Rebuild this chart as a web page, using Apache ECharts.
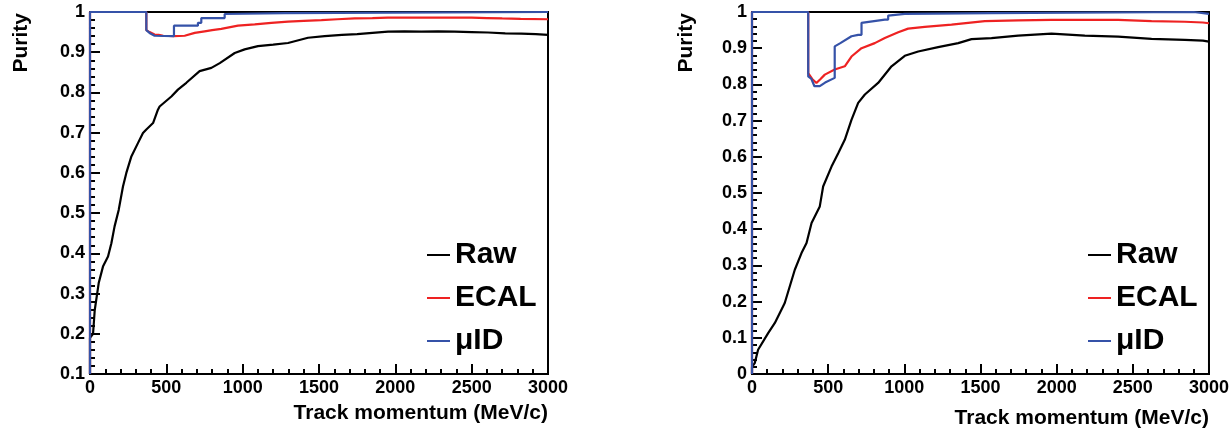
<!DOCTYPE html>
<html>
<head>
<meta charset="utf-8">
<script src="https://cdn.jsdelivr.net/npm/echarts@6/dist/echarts.min.js"></script>
<style>
html,body{margin:0;padding:0;background:#fff;}
#chart{width:1232px;height:434px;}
</style>
</head>
<body>
<div id="chart"></div>
<script>
// ---- Data ----
const seriesNames = ['Raw', 'ECAL', 'μID'];
const xTitle = 'Track momentum (MeV/c)';
const yTitle = 'Purity';

// Left panel
const leftRawP = [0,0,20,31,57,85,118,140,161,188,216,238,271,314,347,369,413,445,456,533,576,631,718,795,850,948,1013,1100,1200,1297,1428,1537,1650,1750,1850,1952,2060,2170,2280,2389,2500,2607,2720,2825,2920,3000];
const leftRawV = [0.1,0.19,0.20,0.259,0.326,0.367,0.392,0.425,0.467,0.508,0.566,0.600,0.641,0.674,0.699,0.708,0.724,0.757,0.765,0.790,0.807,0.824,0.853,0.861,0.873,0.898,0.907,0.915,0.919,0.923,0.936,0.940,0.943,0.945,0.948,0.951,0.952,0.951,0.952,0.951,0.950,0.949,0.947,0.946,0.945,0.943];

const leftEcalP = [0,0,369,369,390,423,450,480,550,620,686,751,800,860,969,1079,1188,1297,1400,1516,1620,1734,1850,1950,2100,2300,2500,2600,2700,2820,3000];
const leftEcalV = [0.1,1,1,0.955,0.950,0.944,0.943,0.941,0.940,0.941,0.948,0.952,0.955,0.958,0.966,0.969,0.973,0.976,0.978,0.980,0.982,0.984,0.985,0.986,0.986,0.986,0.986,0.985,0.984,0.983,0.982];

const leftMuP = [0,0,369,369,390,423,550,550,707,707,729,729,882,882,1275,1275,3000];
const leftMuV = [0.1,1,1,0.955,0.948,0.941,0.940,0.966,0.966,0.973,0.973,0.985,0.985,0.995,0.997,1,1];

// Right panel
const rightRawP = [0,0,18,40,106,150,215,281,325,358,391,445,467,522,566,609,653,697,741,828,916,1003,1091,1222,1354,1441,1572,1747,1966,2185,2404,2623,2841,2960,3000];
const rightRawV = [0,0.02,0.03,0.067,0.113,0.141,0.196,0.288,0.334,0.362,0.417,0.463,0.518,0.573,0.610,0.647,0.702,0.749,0.772,0.804,0.850,0.879,0.891,0.903,0.914,0.925,0.928,0.935,0.940,0.935,0.932,0.926,0.923,0.921,0.918];

const rightEcalP = [0,0,369,369,395,423,450,478,543,609,653,719,806,872,960,1025,1134,1310,1528,1747,1966,2185,2404,2623,2841,2960,3000];
const rightEcalV = [0,1,1,0.831,0.815,0.804,0.815,0.827,0.841,0.850,0.877,0.900,0.914,0.928,0.944,0.954,0.959,0.965,0.975,0.977,0.978,0.978,0.978,0.975,0.973,0.971,0.969];

const rightMuP = [0,0,369,369,390,410,445,480,543,543,580,653,697,719,719,872,894,894,1003,1572,1572,2900,2900,3000];
const rightMuV = [0,1,1,0.822,0.815,0.795,0.795,0.805,0.818,0.905,0.914,0.933,0.937,0.937,0.970,0.979,0.979,0.990,0.995,0.997,1,1,0.995,0.995];

const colors = ['#000000', '#ee2222', '#3552a8'];

// ---- Chart ----
function pairs(p, v) { return p.map((x, i) => [x, v[i]]); }

const FONT = '"Liberation Sans", Arial, Helvetica, sans-serif';
const tickLabel = { color: '#000', fontSize: 18, fontWeight: 'bold', fontFamily: FONT };

function xAx(gi) {
  return {
    type: 'value', gridIndex: gi, min: 0, max: 3000, interval: 500,
    axisLine: { show: true, onZero: false, lineStyle: { color: '#000', width: 2 } },
    axisTick: { show: true, inside: true, length: 10, lineStyle: { color: '#000', width: 2 } },
    minorTick: { show: true, splitNumber: 5, length: 5, lineStyle: { color: '#000', width: 2 } },
    splitLine: { show: false },
    axisLabel: Object.assign({ margin: 5, formatter: v => String(v) }, tickLabel)
  };
}
function yAx(gi, min) {
  return {
    type: 'value', gridIndex: gi, min: min, max: 1, interval: 0.1,
    axisLine: { show: true, onZero: false, lineStyle: { color: '#000', width: 2 } },
    axisTick: { show: true, inside: true, length: 10, lineStyle: { color: '#000', width: 2 } },
    minorTick: { show: true, splitNumber: 5, length: 5, lineStyle: { color: '#000', width: 2 } },
    splitLine: { show: false },
    axisLabel: Object.assign({ margin: 5, formatter: v => String(Math.round(v * 10) / 10) }, tickLabel)
  };
}
function line(name, gi, p, v, color) {
  return {
    type: 'line', name: name, xAxisIndex: gi, yAxisIndex: gi,
    data: pairs(p, v), showSymbol: false, symbol: 'none', clip: false,
    lineStyle: { color: color, width: 2.2 }, itemStyle: { color: color },
    emphasis: { disabled: true }, animation: false
  };
}
function legend(left) {
  return {
    data: seriesNames, orient: 'vertical', left: left, top: 235,
    icon: 'rect', itemWidth: 23, itemHeight: 2, itemGap: 13,
    selectedMode: false,
    textStyle: { color: '#000', fontSize: 30, fontWeight: 'bold', fontFamily: FONT, lineHeight: 30 }
  };
}
function title(x, y, text, rot, align) {
  return {
    type: 'text', x: x, y: y, rotation: rot,
    style: { text: text, fill: '#000', font: 'bold 21px ' + FONT, align: align, verticalAlign: 'middle' }
  };
}

const chart = echarts.init(document.getElementById('chart'), null, { renderer: 'canvas' });
chart.setOption({
  animation: false,
  backgroundColor: '#fff',
  grid: [
    { left: 90, top: 12, width: 458, height: 362, show: true, borderColor: '#000', borderWidth: 2, backgroundColor: 'transparent' },
    { left: 752, top: 12, width: 457, height: 362, show: true, borderColor: '#000', borderWidth: 2, backgroundColor: 'transparent' }
  ],
  xAxis: [xAx(0), xAx(1)],
  yAxis: [yAx(0, 0.1), yAx(1, 0)],
  legend: [legend(422), legend(1083)],
  series: [
    line(seriesNames[0], 0, leftRawP, leftRawV, colors[0]),
    line(seriesNames[1], 0, leftEcalP, leftEcalV, colors[1]),
    line(seriesNames[2], 0, leftMuP, leftMuV, colors[2]),
    line(seriesNames[0], 1, rightRawP, rightRawV, colors[0]),
    line(seriesNames[1], 1, rightEcalP, rightEcalV, colors[1]),
    line(seriesNames[2], 1, rightMuP, rightMuV, colors[2])
  ],
  graphic: [
    title(21, 13, yTitle, Math.PI / 2, 'right'),
    title(686, 13, yTitle, Math.PI / 2, 'right'),
    title(548, 413, xTitle, 0, 'right'),
    title(1209, 418, xTitle, 0, 'right')
  ]
});
</script>
</body>
</html>
